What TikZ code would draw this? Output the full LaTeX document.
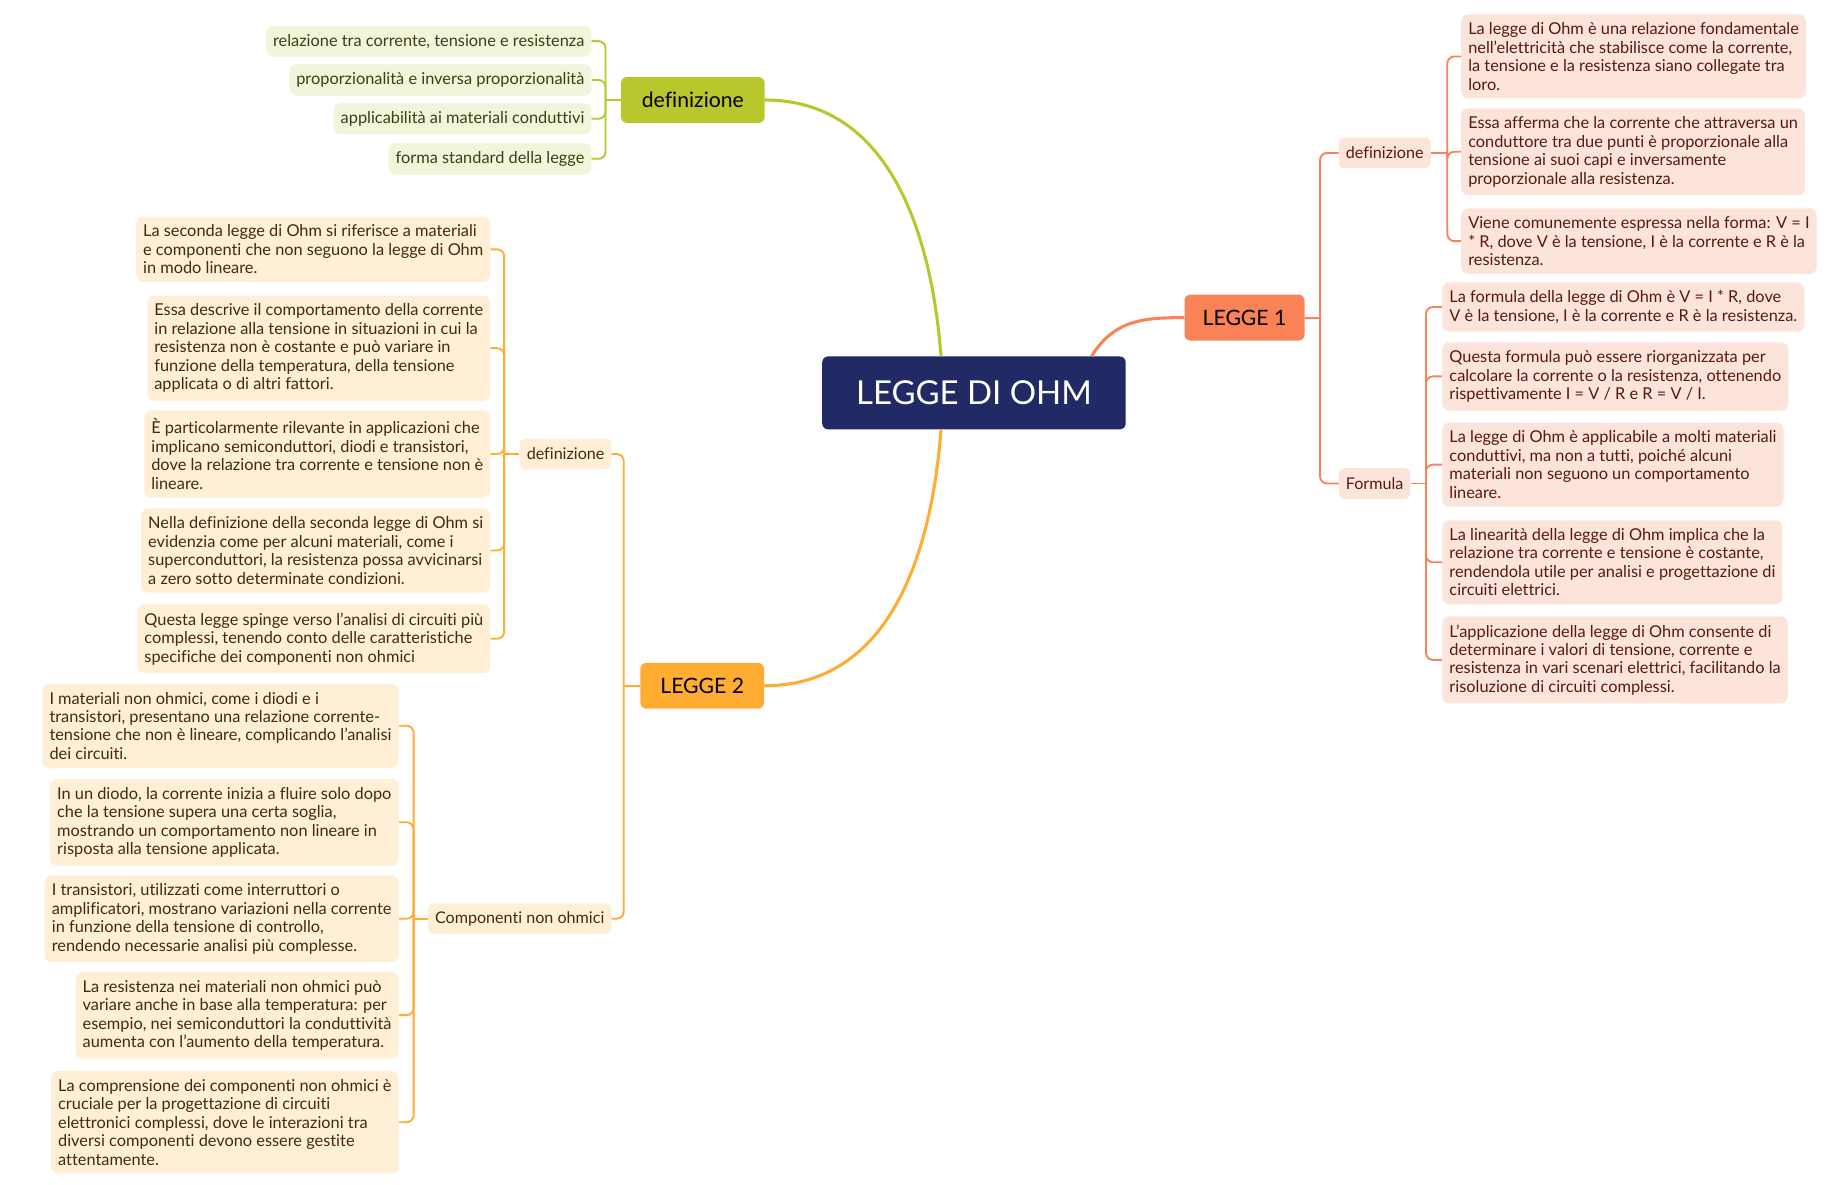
\documentclass[tikz,border=0pt]{standalone}
\usepackage{fontspec}
\setmainfont{Lato}[Ligatures=NoCommon]
\usetikzlibrary{positioning}
\definecolor{navy}{HTML}{222A66}
\definecolor{grmain}{HTML}{B7C72C}
\definecolor{grleaf}{HTML}{F1F5DA}
\definecolor{grtext}{HTML}{3A3F14}
\definecolor{crmain}{HTML}{F98257}
\definecolor{crleaf}{HTML}{FDE4DA}
\definecolor{crtext}{HTML}{561A0F}
\definecolor{ormain}{HTML}{FFAC33}
\definecolor{orleaf}{HTML}{FFEFD7}
\definecolor{ortext}{HTML}{45290C}
\begin{document}
\begin{tikzpicture}[x=1pt,y=-1pt,
  root/.style={fill=navy,text=white,rounded corners=5pt,font=\fontsize{28}{32}\selectfont,minimum width=258pt,minimum height=62pt},
  topic/.style={rounded corners=5pt,font=\fontsize{18}{21}\selectfont,minimum height=39pt,inner xsep=4pt},
  sub/.style={rounded corners=5pt,font=\fontsize{13.7}{15.7}\selectfont,minimum height=26pt,inner xsep=6pt,inner ysep=2pt},
  leaf/.style={rounded corners=6pt,font=\fontsize{13.9}{15.7}\selectfont,align=left,inner xsep=6pt,inner ysep=7pt},
  link/.style={line width=1.6pt,rounded corners=6pt},
  curve/.style={line width=2.6pt}]
\useasboundingbox (0,0) rectangle (1560,1007);

\node[root] (ohm) at (828,334) {LEGGE DI OHM};

% definizione (verde)
\node[topic,fill=grmain,minimum width=122pt] (gdef) at (589,85) {definizione};
\node[leaf,fill=grleaf,text=grtext,anchor=east] (g1) at (503,35) {relazione tra corrente, tensione e resistenza};
\node[leaf,fill=grleaf,text=grtext,anchor=east] (g2) at (503,68) {proporzionalità e inversa proporzionalità};
\node[leaf,fill=grleaf,text=grtext,anchor=east] (g3) at (503,101) {applicabilità ai materiali conduttivi};
\node[leaf,fill=grleaf,text=grtext,anchor=east] (g4) at (503,135) {forma standard della legge};

% LEGGE 1
\node[topic,fill=crmain,minimum width=102pt] (leg1) at (1058,270) {LEGGE 1};
\node[sub,fill=crleaf,text=crtext,anchor=west] (adef) at (1138,130) {definizione};
\node[sub,fill=crleaf,text=crtext,anchor=west] (form) at (1138,411) {Formula};
\node[leaf,fill=crleaf,text=crtext,anchor=west] (a1) at (1242,48) {La legge di Ohm è una relazione fondamentale\\nell'elettricità che stabilisce come la corrente,\\la tensione e la resistenza siano collegate tra\\loro.};
\node[leaf,fill=crleaf,text=crtext,anchor=west] (a2) at (1242,129) {Essa afferma che la corrente che attraversa un\\conduttore tra due punti è proporzionale alla\\tensione ai suoi capi e inversamente\\proporzionale alla resistenza.};
\node[leaf,fill=crleaf,text=crtext,anchor=west] (a3) at (1242,205) {Viene comunemente espressa nella forma: V = I\\* R, dove V è la tensione, I è la corrente e R è la\\resistenza.};
\node[leaf,fill=crleaf,text=crtext,anchor=west] (f1) at (1226,261) {La formula della legge di Ohm è V = I * R, dove\\V è la tensione, I è la corrente e R è la resistenza.};
\node[leaf,fill=crleaf,text=crtext,anchor=west] (f2) at (1226,320) {Questa formula può essere riorganizzata per\\calcolare la corrente o la resistenza, ottenendo\\rispettivamente I = V / R e R = V / I.};
\node[leaf,fill=crleaf,text=crtext,anchor=west] (f3) at (1226,395) {La legge di Ohm è applicabile a molti materiali\\conduttivi, ma non a tutti, poiché alcuni\\materiali non seguono un comportamento\\lineare.};
\node[leaf,fill=crleaf,text=crtext,anchor=west] (f4) at (1226,478) {La linearità della legge di Ohm implica che la\\relazione tra corrente e tensione è costante,\\rendendola utile per analisi e progettazione di\\circuiti elettrici.};
\node[leaf,fill=crleaf,text=crtext,anchor=west] (f5) at (1226,561) {L'applicazione della legge di Ohm consente di\\determinare i valori di tensione, corrente e\\resistenza in vari scenari elettrici, facilitando la\\risoluzione di circuiti complessi.};

% LEGGE 2
\node[topic,fill=ormain,minimum width=105pt] (leg2) at (597,583) {LEGGE 2};
\node[sub,fill=orleaf,text=ortext,anchor=east] (bdef) at (520,386) {definizione};
\node[sub,fill=orleaf,text=ortext,anchor=east] (comp) at (520,781) {Componenti non ohmici};
\node[leaf,fill=orleaf,text=ortext,anchor=east] (d1) at (417,212) {La seconda legge di Ohm si riferisce a materiali\\e componenti che non seguono la legge di Ohm\\in modo lineare.};
\node[leaf,fill=orleaf,text=ortext,anchor=east] (d2) at (417,296) {Essa descrive il comportamento della corrente\\in relazione alla tensione in situazioni in cui la\\resistenza non è costante e può variare in\\funzione della temperatura, della tensione\\applicata o di altri fattori.};
\node[leaf,fill=orleaf,text=ortext,anchor=east] (d3) at (417,386) {È particolarmente rilevante in applicazioni che\\implicano semiconduttori, diodi e transistori,\\dove la relazione tra corrente e tensione non è\\lineare.};
\node[leaf,fill=orleaf,text=ortext,anchor=east] (d4) at (417,468) {Nella definizione della seconda legge di Ohm si\\evidenzia come per alcuni materiali, come i\\superconduttori, la resistenza possa avvicinarsi\\a zero sotto determinate condizioni.};
\node[leaf,fill=orleaf,text=ortext,anchor=east] (d5) at (417,543) {Questa legge spinge verso l'analisi di circuiti più\\complessi, tenendo conto delle caratteristiche\\specifiche dei componenti non ohmici};
\node[leaf,fill=orleaf,text=ortext,anchor=east] (k1) at (339,617) {I materiali non ohmici, come i diodi e i\\transistori, presentano una relazione corrente-\\tensione che non è lineare, complicando l'analisi\\dei circuiti.};
\node[leaf,fill=orleaf,text=ortext,anchor=east] (k2) at (339,699) {In un diodo, la corrente inizia a fluire solo dopo\\che la tensione supera una certa soglia,\\mostrando un comportamento non lineare in\\risposta alla tensione applicata.};
\node[leaf,fill=orleaf,text=ortext,anchor=east] (k3) at (339,781) {I transistori, utilizzati come interruttori o\\amplificatori, mostrano variazioni nella corrente\\in funzione della tensione di controllo,\\rendendo necessarie analisi più complesse.};
\node[leaf,fill=orleaf,text=ortext,anchor=east] (k4) at (339,863) {La resistenza nei materiali non ohmici può\\variare anche in base alla temperatura: per\\esempio, nei semiconduttori la conduttività\\aumenta con l'aumento della temperatura.};
\node[leaf,fill=orleaf,text=ortext,anchor=east] (k5) at (339,954) {La comprensione dei componenti non ohmici è\\cruciale per la progettazione di circuiti\\elettronici complessi, dove le interazioni tra\\diversi componenti devono essere gestite\\attentamente.};

% rami principali
\draw[curve,grmain] ([xshift=-28pt]ohm.north) .. controls (792,200) and (757,85) .. (gdef.east);
\draw[curve,ormain] ([xshift=-28pt]ohm.south) .. controls (792,470) and (757,583) .. (leg2.east);
\draw[curve,crmain] ([xshift=100pt]ohm.north) .. controls (947,272) and (972,270) .. (leg1.west);

% parentesi
\draw[link,grmain] (gdef.west) -- ++(-13,0) coordinate (gj);
\foreach \n in {g1,g2,g3,g4} \draw[link,grmain] (gj) |- (\n.east);
\draw[link,crmain] (leg1.east) -- ++(13,0) coordinate (lj);
\foreach \n in {adef,form} \draw[link,crmain] (lj) |- (\n.west);
\draw[link,crmain] (adef.east) -- ++(14,0) coordinate (aj);
\foreach \n in {a1,a2,a3} \draw[link,crmain] (aj) |- (\n.west);
\draw[link,crmain] (form.east) -- ++(13,0) coordinate (fj);
\foreach \n in {f1,f2,f3,f4,f5} \draw[link,crmain] (fj) |- (\n.west);
\draw[link,ormain] (leg2.west) -- ++(-14,0) coordinate (bj);
\foreach \n in {bdef,comp} \draw[link,ormain] (bj) |- (\n.east);
\draw[link,ormain] (bdef.west) -- ++(-13,0) coordinate (dj);
\foreach \n in {d1,d2,d3,d4,d5} \draw[link,ormain] (dj) |- (\n.east);
\draw[link,ormain] (comp.west) -- ++(-12,0) coordinate (kj);
\foreach \n in {k1,k2,k3,k4,k5} \draw[link,ormain] (kj) |- (\n.east);
\end{tikzpicture}
\end{document}
